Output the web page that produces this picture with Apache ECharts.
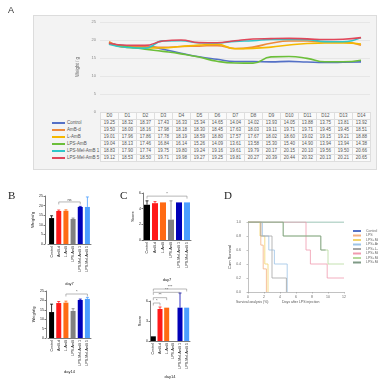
<!DOCTYPE html>
<html><head><meta charset="utf-8">
<script src="https://cdn.jsdelivr.net/npm/echarts@6/dist/echarts.min.js"></script>
<style>
html,body{margin:0;padding:0;background:#fff;}
#wrap{position:relative;width:378px;height:380px;overflow:hidden;}
#card{position:absolute;left:33px;top:15px;width:342px;height:153px;background:#f3f3f3;border:1px solid #dcdcdc;}
#chart{position:absolute;left:0;top:0;width:378px;height:380px;}
#tbl{position:absolute;left:50px;top:112px;border-collapse:collapse;font-family:'Liberation Sans',Arial,sans-serif;font-size:4.5px;color:#555;}
#tbl td{height:6px;padding:0;border:1px solid #dedede;background:#fafafa;text-align:center;width:17px;line-height:6px;white-space:nowrap;}
#tbl td.nm{width:50px;border:none;background:transparent;text-align:left;}
#tbl td.nm span{display:inline-block;width:13px;height:1.5px;vertical-align:middle;margin:0 2px 0 2px;}
</style>
</head><body>
<div id="wrap">
<div id="card"></div>
<table id="tbl"></table>
<div id="chart"></div>
</div>
<script>
// ---- Panel A data ----
const days = ['D0','D1','D2','D3','D4','D5','D6','D7','D8','D9','D10','D11','D12','D13','D14'];
const aNames = ['Control','AmB-d','L-AmB','LPS-AmB','LPS-Mel-AmB 1','LPS-Mel-AmB 5'];
const aColors = ['#5470c6','#ee8a3c','#f5b800','#6cbf3a','#2ec7c9','#e0475a'];
const control = [19.25,18.32,18.37,17.43,16.33,15.34,14.65,14.04,14.02,13.93,14.05,13.88,13.75,13.81,13.92];
const ambd    = [19.50,18.00,18.16,17.98,18.18,18.30,18.45,17.63,18.03,19.11,19.71,19.71,19.45,19.45,18.51];
const lamb    = [19.01,17.96,17.86,17.78,18.19,18.59,18.80,17.57,17.67,18.02,18.60,19.02,19.15,19.21,18.88];
const lpsamb  = [19.04,18.13,17.46,16.84,16.14,15.26,14.09,13.61,13.58,15.30,15.40,14.90,13.94,13.94,14.38];
const mel1    = [18.83,17.90,17.74,19.75,19.80,19.24,19.16,19.61,19.79,20.17,20.15,20.10,19.56,19.50,20.66];
const mel5    = [19.12,18.53,18.50,19.71,19.98,19.27,19.25,19.81,20.27,20.39,20.44,20.32,20.13,20.21,20.65];
const aSeries = [control, ambd, lamb, lpsamb, mel1, mel5];

// ---- Panels B / C data ----
const groups = ['Control','AmB-d','L-AmB','LPS-AmB','LPS-Mel-AmB 1','LPS-Mel-AmB 5'];
const barColors = ['#000000','#ff1a1a','#ff6a13','#808080','#0000b8','#4d9fff'];
const bDay7 = [13.5,17.2,17.3,13.0,19.3,19.3];
const bDay7Err = [1.2,0.5,0.5,0.5,0.3,5.2];
const bDay14 = [13.8,18.6,18.8,14.4,20.2,20.8];
const bDay14Err = [4.2,0.8,0.8,1.2,0.5,0.8];
const cDay7 = [4.5,4.7,4.8,2.6,4.8,4.8];
const cDay7Err = [0.5,0.2,0,2.4,0,0];
const cDay14 = [0.7,4.8,5.0,0,5.0,5.0];
const cDay14Err = [0,0.3,0,0,2.2,0];
const bDay7Sig = [[1,4,21.9,'ns']];
const bDay14Sig = [[2,5,23.4,'*']];
const cDay7Sig = [[0,5,5.6,'*']];
const cDay14Sig = [[0,1,5.7,'*'],[0,2,6.5,'**'],[0,4,7.3,'**'],[0,5,7.8,'***']];

// ---- Panel D data ----
const dNames = ['Control','LPS','LPS+Mel','LPS+AmB-d','LPS+L-AmB','LPS+Mel-AmB 1','LPS+Mel-AmB 5','LPS+Mel-AmB 10'];
const dColors = ['#5a9e86','#f4b183','#f2d36b','#9dc3e6','#a5a5a5','#f09aae','#b5d99c','#7f9a86'];
const dCurves = [
  [[0,1],[12,1]],
  [[0,1],[1.6,0.67],[1.9,0.33],[2.3,0]],
  [[0,1],[1.5,0.8],[2.1,0.4],[2.5,0]],
  [[0,1],[1.8,0.8],[2.6,0.6],[3.3,0.4],[4.9,0]],
  [[0,1],[1.6,0.8],[3.0,0.2],[4.8,0]],
  [[0,1],[7.25,0.6],[7.8,0.4],[9.9,0.2],[12,0.2]],
  [[0,1],[4.4,0.8],[9.1,0.6],[10,0.4],[12,0.4]],
  [[0,1],[4.4,0.8],[9.1,0.6],[9.7,0.6]]
];

// ---- table ----
(function(){
  const t = document.getElementById('tbl');
  let h = '<tr><td class="nm"></td>' + days.map(d=>'<td>'+d+'</td>').join('') + '</tr>';
  aNames.forEach((n,i)=>{
    h += '<tr><td class="nm"><span style="background:'+aColors[i]+'"></span>'+n+'</td>' +
      aSeries[i].map(v=>'<td>'+v.toFixed(2)+'</td>').join('') + '</tr>';
  });
  t.innerHTML = h;
})();

const chart = echarts.init(document.getElementById('chart'), null, {renderer:'canvas'});
const F = "'Liberation Sans', Arial, sans-serif";

function errSeries(x, y, vals, errs){
  return {type:'custom', xAxisIndex:x, yAxisIndex:y, z:3, silent:true,
    data: vals.map((v,i)=>[i, v, v+errs[i]]),
    renderItem:(p,api)=>{
      const lo = api.coord([api.value(0), api.value(1)]);
      const hi = api.coord([api.value(0), api.value(2)]);
      if (api.value(2) - api.value(1) <= 0) return null;
      const c = barColors[api.value(0)];
      return {type:'group', children:[
        {type:'line', shape:{x1:lo[0],y1:lo[1],x2:hi[0],y2:hi[1]}, style:{stroke:c,lineWidth:0.8}},
        {type:'line', shape:{x1:hi[0]-1.5,y1:hi[1],x2:hi[0]+1.5,y2:hi[1]}, style:{stroke:c,lineWidth:0.8}}
      ]};
    }};
}
function sigSeries(x, y, sig){
  return {type:'custom', xAxisIndex:x, yAxisIndex:y, z:4, silent:true, clip:false,
    data: sig.map(s=>[s[0],s[1],s[2],s[3]]),
    renderItem:(p,api)=>{
      const a = api.coord([api.value(0), api.value(2)]);
      const b = api.coord([api.value(1), api.value(2)]);
      const txt = sig[p.dataIndex][3];
      return {type:'group', children:[
        {type:'polyline', shape:{points:[[a[0],a[1]+2.5],[a[0],a[1]],[b[0],b[1]],[b[0],b[1]+2.5]]}, style:{stroke:'#888',lineWidth:0.6,fill:null}},
        {type:'text', x:(a[0]+b[0])/2, y:a[1]-0.5, style:{text:txt, fill:'#444', font:'4px '+F, align:'center', verticalAlign:'bottom'}}
      ]};
    }};
}
function barYAxis(grid, max, interval, name, offset){
  return {type:'value', gridIndex:grid, min:0, max:max, interval:interval, offset:offset,
    name:name, nameLocation:'middle', nameGap:8, nameTextStyle:{fontSize:4, color:'#222', fontFamily:F},
    axisLine:{show:true, lineStyle:{color:'#222', width:0.6}}, axisTick:{show:true, length:1.5, lineStyle:{color:'#222',width:0.6}},
    axisLabel:{fontSize:3.5, color:'#222', margin:2, fontFamily:F}, splitLine:{show:false}};
}
function barXAxis(grid, title, gap){
  return {type:'category', gridIndex:grid, data:groups,
    name:title, nameLocation:'middle', nameGap:gap, nameTextStyle:{fontSize:4, color:'#222', fontFamily:F},
    axisLine:{lineStyle:{color:'#222', width:0.6}}, axisTick:{show:false},
    axisLabel:{rotate:90, fontSize:3.6, color:'#222', margin:2, interval:0, fontFamily:F}};
}
function barSeries(x, y, vals, w){
  return {type:'bar', xAxisIndex:x, yAxisIndex:y, barWidth:w, z:2,
    data: vals.map((v,i)=>({value:v, itemStyle:{color:barColors[i]}}))};
}

const option = {
  animation:false,
  backgroundColor:'transparent',
  grid:[
    {left:100, top:22, width:270, height:90},
    {left:48, top:196, width:43, height:48},
    {left:48, top:291, width:43, height:47},
    {left:143, top:193, width:48, height:47},
    {left:150, top:301, width:40, height:41},
    {left:248, top:222, width:96, height:70}
  ],
  xAxis:[
    {type:'category', gridIndex:0, data:days, boundaryGap:true, axisLine:{show:false}, axisTick:{show:false}, axisLabel:{show:false}},
    barXAxis(1,'day7',38),
    barXAxis(2,'day14',32),
    barXAxis(3,'day7',38),
    barXAxis(4,'day14',34),
    {type:'value', gridIndex:5, min:0, max:12, interval:2,
      axisLine:{lineStyle:{color:'#999',width:0.6}}, axisTick:{length:1.5,lineStyle:{color:'#999',width:0.6}},
      axisLabel:{fontSize:3.5, color:'#666', margin:3, fontFamily:F}, splitLine:{show:false}}
  ],
  yAxis:[
    {type:'value', gridIndex:0, min:0, max:25, interval:5, name:'Weight / g', nameLocation:'middle', nameGap:14,
      nameTextStyle:{fontSize:4.5, color:'#666', fontFamily:F},
      axisLine:{show:false}, axisTick:{show:false}, axisLabel:{fontSize:4, color:'#888', margin:4, fontFamily:F},
      splitLine:{lineStyle:{color:'#dddddd', width:0.6}}},
    barYAxis(1,25,5,'Weight/g',3),
    barYAxis(2,25,5,'Weight/g',2),
    barYAxis(3,6,2,'Score',0),
    barYAxis(4,6,3,'Score',0),
    {type:'value', gridIndex:5, min:0, max:1, interval:0.2, offset:5, name:'Cum Survival', nameLocation:'middle', nameGap:10,
      nameTextStyle:{fontSize:4, color:'#333', fontFamily:F},
      axisLine:{show:true, lineStyle:{color:'#999',width:0.6}}, axisTick:{show:true,length:1.5,lineStyle:{color:'#999',width:0.6}},
      axisLabel:{fontSize:3.5, color:'#666', margin:2, formatter:v=>v.toFixed(1), fontFamily:F}, splitLine:{show:false}}
  ],
  legend:{orient:'vertical', left:348, top:224, itemWidth:8, itemHeight:2, itemGap:0.5,
    data:dNames, textStyle:{fontSize:3.5, color:'#666', fontFamily:F}, icon:'rect'},
  graphic:[
    {type:'text', left:8, top:6, style:{text:'A', font:'9px '+F, fill:'#333'}},
    {type:'text', left:8, top:191, style:{text:'B', font:'11px "Liberation Serif", serif', fill:'#222'}},
    {type:'text', left:120, top:191, style:{text:'C', font:'11px "Liberation Serif", serif', fill:'#222'}},
    {type:'text', left:224, top:191, style:{text:'D', font:'11px "Liberation Serif", serif', fill:'#222'}},
    {type:'text', left:236, top:300, style:{text:'Survival analysis (%)', font:'3.5px '+F, fill:'#555'}},
    {type:'text', left:282, top:300, style:{text:'Days after LPS injection', font:'3.5px '+F, fill:'#555'}}
  ],
  series:[]
};

aSeries.forEach((d,i)=>{
  option.series.push({type:'line', name:aNames[i], xAxisIndex:0, yAxisIndex:0, data:d, smooth:true,
    showSymbol:false, lineStyle:{width:1.6, color:aColors[i]}, itemStyle:{color:aColors[i]}});
});
option.series.push(barSeries(1,1,bDay7,5), errSeries(1,1,bDay7,bDay7Err), sigSeries(1,1,bDay7Sig));
option.series.push(barSeries(2,2,bDay14,5), errSeries(2,2,bDay14,bDay14Err), sigSeries(2,2,bDay14Sig));
option.series.push(barSeries(3,3,cDay7,6), errSeries(3,3,cDay7,cDay7Err), sigSeries(3,3,cDay7Sig));
option.series.push(barSeries(4,4,cDay14,5), errSeries(4,4,cDay14,cDay14Err), sigSeries(4,4,cDay14Sig));
dCurves.forEach((d,i)=>{
  option.series.push({type:'line', name:dNames[i], xAxisIndex:5, yAxisIndex:5, data:d, step:'end',
    showSymbol:false, lineStyle:{width:0.8, color:dColors[i]}, itemStyle:{color:dColors[i]}});
});
chart.setOption(option);
</script>
</body></html>
